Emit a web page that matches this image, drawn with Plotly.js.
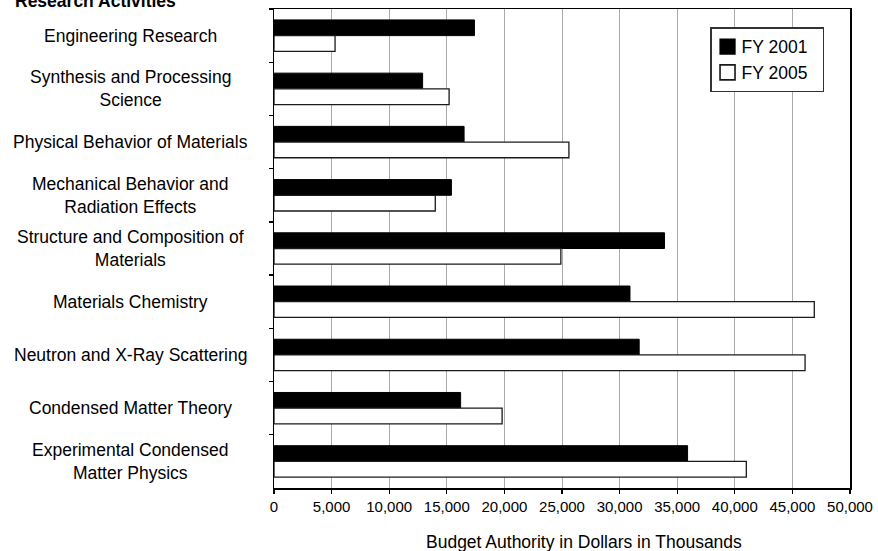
<!DOCTYPE html>
<html>
<head>
<meta charset="utf-8">
<script src="https://cdn.plot.ly/plotly-3.0.1.min.js"></script>
<style>
  html, body { margin: 0; padding: 0; background: #fff; }
  #chart { width: 878px; height: 551px; }
</style>
</head>
<body>
<div id="chart"></div>
<script>
// ---- data ----
const categories = [
  "Engineering Research",
  "Synthesis and Processing Science",
  "Physical Behavior of Materials",
  "Mechanical Behavior and Radiation Effects",
  "Structure and Composition of Materials",
  "Materials Chemistry",
  "Neutron and X-Ray Scattering",
  "Condensed Matter Theory",
  "Experimental Condensed Matter Physics"
];
const categoryLabels = [
  "Engineering Research",
  "Synthesis and Processing<br>Science",
  "Physical Behavior of Materials",
  "Mechanical Behavior and<br>Radiation Effects",
  "Structure and Composition of<br>Materials",
  "Materials Chemistry",
  "Neutron and X-Ray Scattering",
  "Condensed Matter Theory",
  "Experimental Condensed<br>Matter Physics"
];
const seriesNames = ["FY 2001", "FY 2005"];
const fy2001 = [17400, 12900, 16500, 15400, 33900, 30900, 31700, 16200, 35900];
const fy2005 = [5300, 15200, 25600, 14000, 24900, 46900, 46100, 19800, 41000];
const xTickVals = [0, 5000, 10000, 15000, 20000, 25000, 30000, 35000, 40000, 45000, 50000];
const xTickText = ["0", "5,000", "10,000", "15,000", "20,000", "25,000", "30,000", "35,000", "40,000", "45,000", "50,000"];
const chartTitle = "Research Activities";
const xTitle = "Budget Authority in Dollars in Thousands";

// ---- chart ----
const FONT = "'Liberation Sans', Arial, Helvetica, sans-serif";

const traces = [
  {
    type: "bar", orientation: "h", name: seriesNames[0],
    y: categories, x: fy2001,
    marker: { color: "#000000", line: { color: "#000000", width: 1 } },
    legendgroup: "a"
  },
  {
    type: "bar", orientation: "h", name: seriesNames[1],
    y: categories, x: fy2005,
    marker: { color: "#ffffff", line: { color: "#1a1a1a", width: 1.3 } },
    legendgroup: "b"
  }
];

const annotations = categories.map((c, i) => ({
  xref: "paper", yref: "y",
  x: -0.25, y: c,
  xanchor: "center", yanchor: "middle",
  align: "center",
  text: categoryLabels[i],
  showarrow: false,
  font: { family: FONT, size: 17.5, color: "#000" }
}));
annotations.push({
  xref: "paper", yref: "paper",
  x: -0.31, y: 1.016, xanchor: "center", yanchor: "middle",
  text: "<b>" + chartTitle + "</b>", showarrow: false,
  font: { family: FONT, size: 17.5, color: "#000" }
});
annotations.push({
  xref: "paper", yref: "paper",
  x: 0.538, y: -0.112, xanchor: "center", yanchor: "middle",
  text: xTitle, showarrow: false,
  font: { family: FONT, size: 17.5, color: "#000" }
});

const layout = {
  width: 878, height: 551,
  margin: { l: 274, r: 28, t: 9, b: 63, pad: 0 },
  paper_bgcolor: "#ffffff", plot_bgcolor: "#ffffff",
  font: { family: FONT, size: 15, color: "#000" },
  barmode: "group", bargap: 0.41, bargroupgap: 0,
  showlegend: true,
  legend: {
    x: 0.757, y: 0.962, xanchor: "left", yanchor: "top",
    bgcolor: "#ffffff", bordercolor: "#333333", borderwidth: 1.5,
    font: { family: FONT, size: 17.5, color: "#000" },
    traceorder: "normal", tracegroupgap: 0
  },
  xaxis: {
    range: [0, 50000],
    tickvals: xTickVals, ticktext: xTickText,
    ticks: "outside", ticklen: 4, tickwidth: 1.3, tickcolor: "#000",
    showgrid: true, gridcolor: "#aaaaaa", gridwidth: 1,
    showline: true, linecolor: "#000", linewidth: 1.5, mirror: true,
    zeroline: false,
    tickfont: { family: FONT, size: 15, color: "#000" }
  },
  yaxis: {
    type: "category", categoryorder: "array", categoryarray: categories,
    autorange: "reversed",
    tickson: "boundaries", ticks: "outside", ticklen: 4, tickwidth: 1.3, tickcolor: "#000",
    showticklabels: false, showgrid: false, zeroline: false,
    showline: true, linecolor: "#000", linewidth: 1.5, mirror: true
  },
  annotations: annotations
};

Plotly.newPlot("chart", traces, layout, { displayModeBar: false, staticPlot: true }).then(() => {
  // larger legend swatches sitting close to their text, as in the reference
  document.querySelectorAll("#chart .legend .legendpoints path").forEach(p => {
    p.setAttribute("transform", "translate(16,0) scale(1.25)");
  });
  document.querySelectorAll("#chart .legend text.legendtext").forEach(t => {
    t.setAttribute("x", "30");
  });
});
</script>
</body>
</html>
